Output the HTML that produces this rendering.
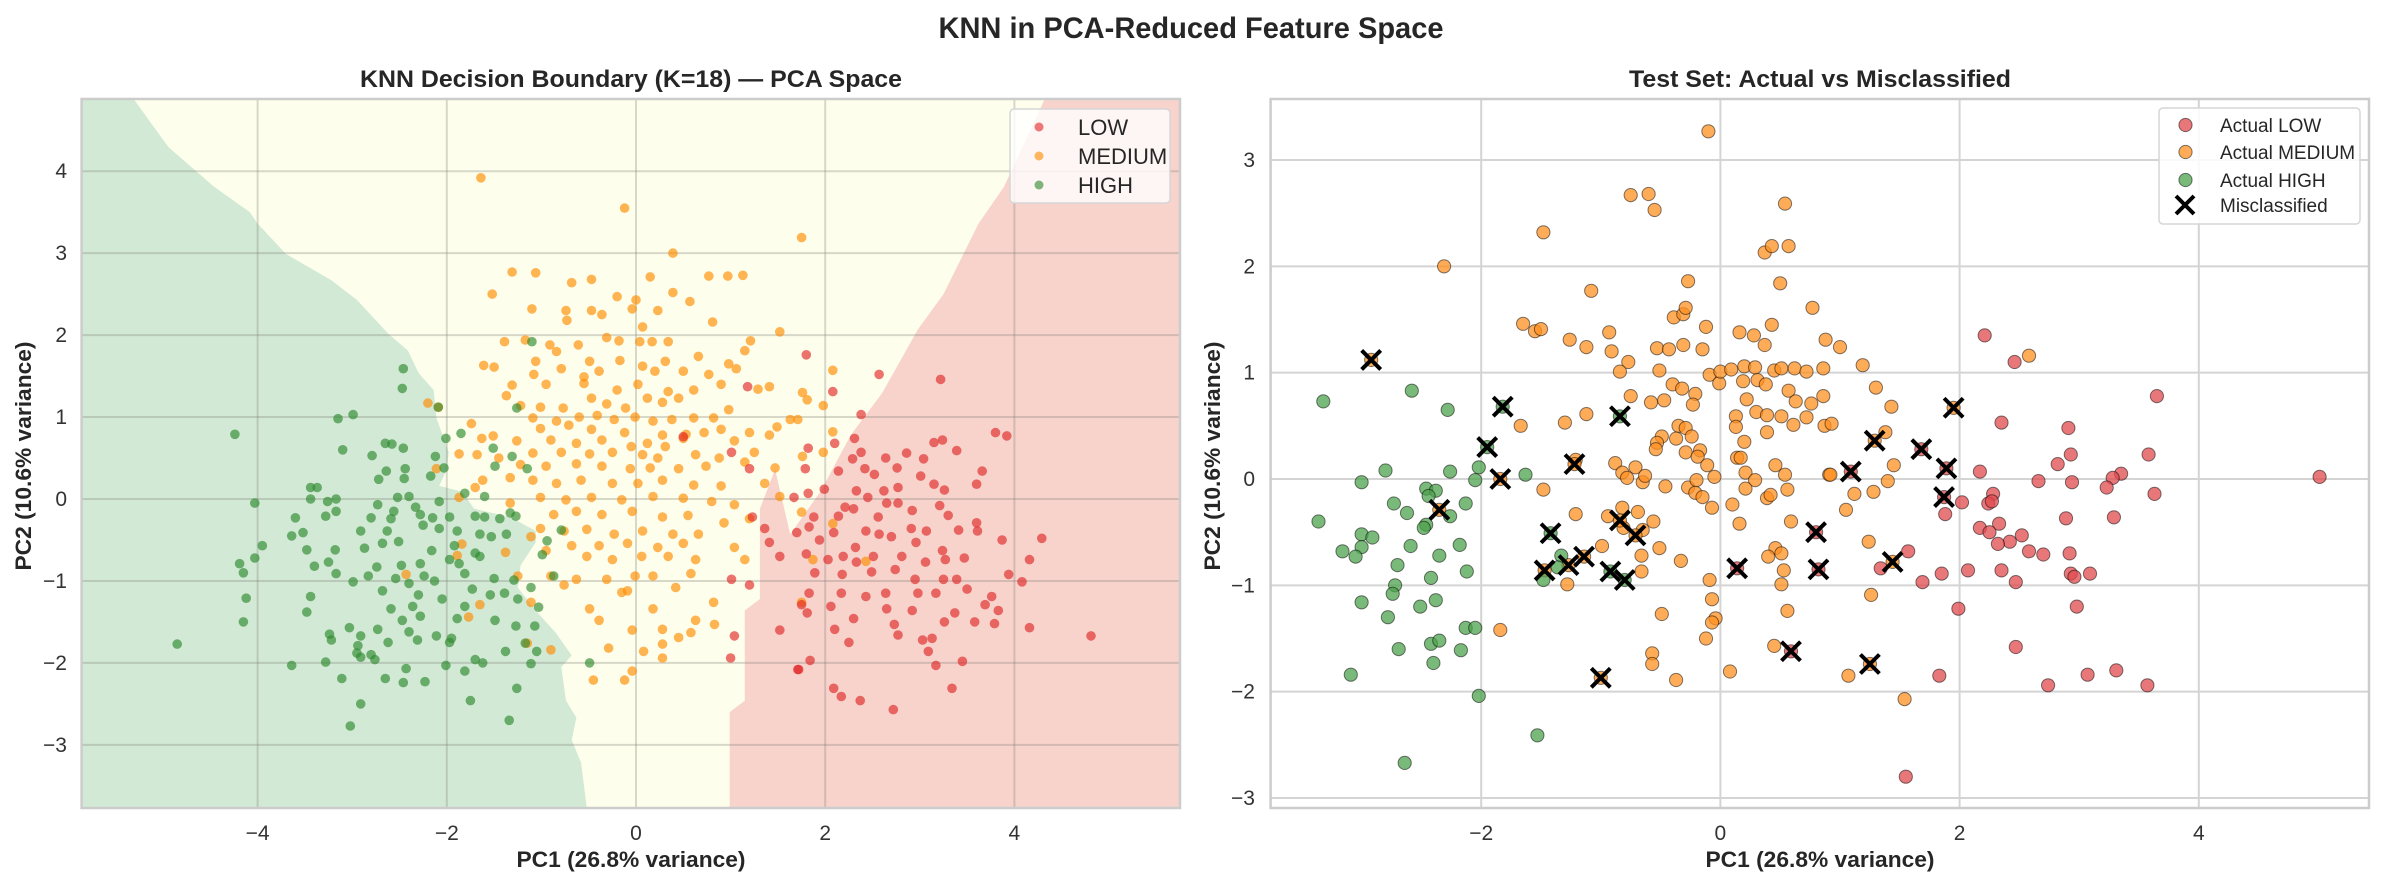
<!DOCTYPE html>
<html><head><meta charset="utf-8">
<style>
html,body{margin:0;padding:0;background:#fff;}
svg{display:block;font-family:"Liberation Sans","DejaVu Sans",sans-serif;}
</style></head>
<body>
<svg id="fig" width="2384" height="886" viewBox="0 0 2384 886" xmlns="http://www.w3.org/2000/svg">
<text x="1191" y="38" font-size="30" font-weight="bold" fill="#262626" text-anchor="middle" textLength="505" lengthAdjust="spacingAndGlyphs">KNN in PCA-Reduced Feature Space</text>
<g id="left"></g>
<g id="right"></g>
</svg>
<script>
// ---------- DATA ----------
const xTicks = [-4, -2, 0, 2, 4];
const leftYTicks = [-3, -2, -1, 0, 1, 2, 3, 4];
const rightXTicks = [-2, 0, 2, 4];
const rightYTicks = [-3, -2, -1, 0, 1, 2, 3];
const classNames = ["LOW", "MEDIUM", "HIGH"];
// decision regions (data coords)
const greenRegion = [[-5.86,4.88],[-5.31,4.88],[-5.16,4.64],[-4.94,4.29],[-4.46,3.81],[-4.08,3.50],[-4.0,3.36],[-3.70,2.99],[-3.22,2.67],[-2.95,2.43],[-2.62,2.02],[-2.41,1.81],[-2.30,1.54],[-2.14,1.33],[-2.11,0.99],[-1.98,0.57],[-2.0,0.36],[-2.08,0.16],[-1.84,0.09],[-1.71,-0.12],[-1.33,-0.22],[-1.06,-0.39],[-1.06,-0.53],[-1.22,-0.81],[-1.25,-1.08],[-1.06,-1.36],[-0.85,-1.63],[-0.68,-1.91],[-0.79,-2.05],[-0.74,-2.46],[-0.63,-2.67],[-0.68,-2.94],[-0.58,-3.22],[-0.52,-3.77],[-5.86,-3.77]];
const redRegion = [[4.32,4.88],[5.75,4.88],[5.75,-3.77],[0.99,-3.77],[0.99,-2.60],[1.15,-2.46],[1.15,-1.36],[1.31,-1.22],[1.31,-0.12],[1.47,0.36],[1.63,-0.43],[1.95,0.09],[2.27,0.78],[2.60,1.29],[2.98,2.07],[3.25,2.50],[3.62,3.36],[3.89,3.81]];
const leftMedium = [[-1.64,3.92],[-0.12,3.55],[0.39,3.0],[-1.31,2.77],[-1.06,2.76],[-1.52,2.5],[-0.47,2.68],[-0.68,2.64],[0.15,2.71],[0.77,2.72],[0.97,2.72],[1.13,2.73],[0,2.43],[-0.2,2.47],[0.39,2.52],[0.57,2.41],[-1.1,2.32],[-0.74,2.3],[-0.47,2.3],[-0.04,2.32],[0.23,2.3],[-0.36,2.25],[-0.73,2.18],[0.07,2.1],[0.81,2.16],[1.52,2.04],[-1.39,1.92],[-1.17,1.94],[-0.91,1.88],[-0.61,1.88],[-0.31,1.97],[-0.18,1.93],[0.04,1.92],[0.17,1.92],[0.34,1.92],[1.21,1.93],[1.15,1.81],[-0.84,1.8],[0.66,1.74],[-1.06,1.68],[-0.49,1.68],[-0.17,1.69],[0.07,1.62],[0.31,1.68],[0.98,1.65],[-1.61,1.63],[-1.5,1.61],[-0.79,1.59],[-1.08,1.52],[-0.55,1.49],[-0.39,1.56],[0.2,1.56],[0.5,1.56],[0.77,1.52],[1.06,1.59],[-1.31,1.39],[-0.95,1.4],[-0.55,1.41],[-0.2,1.33],[0.02,1.4],[0.34,1.31],[0.61,1.33],[0.9,1.4],[1.29,1.34],[1.41,1.37],[-1.37,1.26],[-0.47,1.23],[-0.31,1.16],[0.12,1.23],[0.45,1.23],[-1.22,1.14],[-1.01,1.12],[-0.77,1.11],[-0.11,1.11],[0.28,1.18],[0.98,1.09],[-1.09,0.99],[-0.84,0.95],[-0.6,1.0],[-0.41,1.02],[-0.23,0.97],[-0.01,1.0],[0.18,0.95],[0.38,0.97],[0.61,0.99],[0.82,0.99],[1.63,0.97],[-1.74,0.92],[-1.01,0.86],[-0.71,0.9],[-0.47,0.85],[-0.12,0.81],[0.28,0.78],[0.53,0.79],[0.72,0.81],[0.9,0.85],[1.2,0.81],[1.49,0.88],[-1.63,0.74],[-1.51,0.77],[-1.26,0.71],[-0.9,0.72],[-0.63,0.68],[-0.36,0.72],[-0.05,0.64],[0.12,0.68],[0.31,0.64],[0.5,0.74],[1.04,0.71],[1.41,0.78],[-1.09,0.56],[-0.79,0.57],[-0.49,0.55],[-0.25,0.57],[0.07,0.54],[0.23,0.5],[0.63,0.54],[0.88,0.5],[1.25,0.57],[-1.87,0.55],[-1.68,0.54],[-1.45,0.5],[-1.22,0.42],[-0.95,0.4],[-0.63,0.43],[-0.36,0.4],[-0.06,0.37],[0.15,0.38],[0.45,0.37],[0.74,0.4],[1.15,0.45],[1.47,0.38],[-1.62,0.23],[-1.33,0.26],[-1.09,0.23],[-0.84,0.19],[-0.58,0.23],[-0.25,0.19],[0.02,0.19],[0.28,0.23],[0.61,0.17],[0.9,0.16],[1.36,0.19],[-1.7,0.14],[-1.01,0.02],[-0.74,-0.01],[-0.47,0.02],[-0.15,-0.01],[0.18,0.03],[0.5,0.01],[0.8,-0.03],[1.04,-0.07],[1.52,0.03],[-1.87,0.02],[-1.33,-0.05],[-0.87,-0.19],[-0.63,-0.15],[-0.36,-0.19],[-0.04,-0.15],[0.28,-0.22],[0.55,-0.2],[0.93,-0.29],[1.2,-0.24],[-1.01,-0.36],[-0.76,-0.39],[-0.52,-0.37],[-0.23,-0.43],[0.07,-0.39],[0.39,-0.43],[0.66,-0.43],[-1.11,-0.46],[-0.68,-0.57],[-0.39,-0.57],[-0.09,-0.54],[0.23,-0.59],[0.5,-0.54],[1.04,-0.59],[-0.95,-0.63],[-0.52,-0.7],[-0.25,-0.74],[0.06,-0.7],[0.34,-0.7],[0.63,-0.74],[1.15,-0.74],[-0.9,-0.94],[-0.63,-0.98],[-0.31,-0.98],[-0.01,-0.94],[0.18,-0.94],[0.58,-0.91],[-1.25,-0.94],[-0.76,-1.05],[-0.09,-1.12],[0.42,-1.08],[-1.11,-1.26],[-0.49,-1.34],[-0.15,-1.14],[0.18,-1.34],[0.82,-1.26],[-0.39,-1.48],[-0.04,-1.6],[0.28,-1.59],[0.63,-1.48],[0.83,-1.53],[-1.15,-1.76],[-0.9,-1.84],[-0.29,-1.82],[0.28,-1.77],[0.45,-1.69],[0.08,-1.86],[-0.04,-2.1],[-0.45,-2.21],[-0.12,-2.21],[0.28,-1.94],[0.58,-1.63],[-2.2,1.17],[-2.09,1.12],[-2.11,0.37],[-1.38,-0.65],[-1.84,-0.55],[-1.89,-0.69],[-2.43,-0.92],[-1.77,-1.44],[-1.65,-1.29],[1.75,3.19],[2.08,1.57],[1.76,1.3],[1.81,1.21],[1.98,1.14],[2.08,0.82],[1.71,0.97],[1.76,0.52],[1.98,0.57],[1.75,-0.16],[1.87,-0.74],[2.43,-0.76],[2.08,-0.3],[1.75,-1.26]];
const leftHigh = [[-2.46,1.59],[-2.47,1.35],[-3.15,0.98],[-2.99,1.03],[-4.24,0.79],[-1.1,1.92],[-2.09,1.12],[-1.26,1.11],[-2.65,0.68],[-2.58,0.67],[-2.46,0.62],[-3.1,0.6],[-2.01,0.74],[-1.85,0.8],[-1.51,0.62],[-1.31,0.52],[-2.79,0.53],[-2.12,0.52],[-2.64,0.34],[-2.44,0.37],[-2.72,0.24],[-2.45,0.25],[-2.17,0.28],[-2.03,0.38],[-1.49,0.4],[-1.15,0.37],[-3.44,0.14],[-3.37,0.14],[-4.03,-0.05],[-3.44,0],[-3.26,-0.03],[-3.17,0],[-2.52,0.02],[-2.4,0.03],[-2.08,-0.03],[-1.81,0.07],[-1.6,0.03],[-2.73,-0.07],[-2.33,-0.1],[-3.17,-0.15],[-2.56,-0.15],[-2.28,-0.19],[-1.97,-0.22],[-1.6,-0.22],[-1.33,-0.17],[-3.6,-0.23],[-3.28,-0.21],[-2.8,-0.23],[-2.59,-0.24],[-2.15,-0.23],[-1.7,-0.21],[-1.44,-0.24],[-1.27,-0.21],[-2.91,-0.39],[-2.63,-0.39],[-2.25,-0.32],[-2.08,-0.36],[-1.89,-0.39],[-1.65,-0.43],[-1.37,-0.43],[-0.79,-0.38],[-3.64,-0.45],[-3.52,-0.41],[-2.68,-0.54],[-2.51,-0.52],[-1.53,-0.46],[-0.94,-0.51],[-3.48,-0.62],[-3.18,-0.62],[-2.87,-0.6],[-2.16,-0.63],[-1.92,-0.57],[-1.7,-0.66],[-4.19,-0.79],[-3.4,-0.82],[-3.25,-0.77],[-2.74,-0.83],[-2.48,-0.81],[-2.28,-0.79],[-1.97,-0.74],[-1.87,-0.79],[-1.65,-0.7],[-0.99,-0.68],[-4.03,-0.72],[-3.95,-0.57],[-4.15,-0.9],[-3.17,-0.91],[-2.83,-0.94],[-2.54,-0.97],[-2.24,-0.94],[-1.81,-0.91],[-1.5,-0.97],[-1.29,-0.99],[-0.87,-0.94],[-2.99,-1.01],[-2.68,-1.12],[-2.4,-1.03],[-2.13,-1.0],[-1.73,-1.1],[-1.39,-1.15],[-1.11,-1.08],[-3.44,-1.19],[-2.3,-1.17],[-2.05,-1.22],[-1.54,-1.17],[-1.25,-1.22],[-4.12,-1.21],[-2.59,-1.34],[-2.36,-1.31],[-1.81,-1.31],[-1.03,-1.32],[-3.48,-1.38],[-2.47,-1.48],[-2.28,-1.43],[-1.89,-1.46],[-1.49,-1.48],[-1.27,-1.55],[-4.15,-1.5],[-3.03,-1.57],[-2.73,-1.59],[-2.4,-1.62],[-1.07,-1.55],[-3.24,-1.65],[-2.91,-1.67],[-2.11,-1.67],[-1.95,-1.7],[-1.17,-1.76],[-3.22,-1.72],[-2.94,-1.79],[-2.62,-1.75],[-2.31,-1.72],[-4.85,-1.77],[-2.95,-1.88],[-2.8,-1.9],[-1.97,-1.75],[-1.38,-1.86],[-1.05,-1.86],[-0.49,-2.0],[-3.64,-2.03],[-3.28,-1.99],[-2.91,-1.93],[-2.76,-1.96],[-1.7,-1.96],[-1.11,-2.01],[-2.01,-2.03],[-2.43,-2.07],[-3.11,-2.19],[-2.65,-2.19],[-2.46,-2.24],[-2.23,-2.23],[-1.81,-2.1],[-1.62,-2.0],[-1.26,-2.31],[-1.75,-2.46],[-2.91,-2.5],[-1.34,-2.7],[-3.02,-2.77]];
const leftLow = [[1.8,1.76],[2.57,1.52],[3.22,1.46],[2.08,1.31],[2.38,1.03],[3.8,0.81],[3.92,0.77],[2.31,0.74],[3.15,0.69],[3.24,0.72],[3.39,0.59],[2.1,0.68],[1.82,0.62],[2.38,0.57],[2.86,0.56],[2.29,0.49],[2.64,0.5],[3.04,0.49],[2.14,0.34],[2.42,0.37],[2.76,0.38],[3.66,0.34],[1.79,0.37],[3.6,0.18],[3.01,0.28],[3.15,0.18],[2.33,0.1],[2.52,0.3],[2.62,0.1],[2.77,0.14],[3.26,0.11],[1.99,0.12],[1.67,0.02],[1.82,0.07],[2.45,0.02],[2.21,-0.1],[2.3,-0.12],[2.65,-0.05],[2.77,-0.05],[2.92,-0.14],[3.21,-0.08],[1.88,-0.22],[2.14,-0.21],[2.56,-0.22],[3.3,-0.2],[3.6,-0.29],[1.83,-0.34],[2.09,-0.41],[2.43,-0.39],[2.57,-0.43],[2.91,-0.36],[3.07,-0.39],[3.41,-0.38],[3.61,-0.39],[1.7,-0.41],[1.94,-0.5],[2.32,-0.59],[2.7,-0.46],[2.96,-0.53],[3.24,-0.63],[4.29,-0.48],[3.87,-0.5],[1.8,-0.67],[2.03,-0.74],[2.19,-0.7],[2.33,-0.77],[2.51,-0.7],[2.81,-0.7],[3.06,-0.77],[3.27,-0.74],[3.47,-0.72],[4.16,-0.74],[1.89,-0.9],[2.18,-0.92],[2.49,-0.89],[2.74,-0.86],[2.95,-0.98],[3.25,-0.98],[3.39,-0.98],[3.94,-0.92],[4.08,-1.01],[1.83,-1.15],[2.17,-1.15],[2.43,-1.19],[2.64,-1.15],[2.98,-1.15],[3.17,-1.15],[3.5,-1.1],[3.76,-1.19],[1.75,-1.29],[2.06,-1.31],[2.65,-1.34],[2.92,-1.36],[3.37,-1.39],[3.69,-1.29],[3.83,-1.36],[1.81,-1.39],[2.3,-1.46],[2.73,-1.53],[3.26,-1.5],[3.58,-1.5],[3.79,-1.52],[4.16,-1.57],[4.81,-1.67],[2.1,-1.59],[2.25,-1.75],[2.77,-1.66],[3.03,-1.72],[3.13,-1.7],[1.84,-1.97],[1.72,-2.08],[3.17,-2.03],[3.45,-1.98],[2.09,-2.31],[2.17,-2.41],[2.37,-2.46],[2.72,-2.57],[3.34,-2.31],[3.09,-1.86],[1.18,1.37],[0.5,0.76],[1.01,0.57],[1.2,0.37],[1.23,-0.22],[1.36,-0.36],[1.41,-0.53],[1.52,-0.7],[1.01,-0.98],[1.04,-1.67],[1.52,-1.6],[1.0,-1.94],[1.71,-2.08],[1.2,-1.05]];
// right panel test set
const testMedium = [[-0.1,3.27],[-0.75,2.67],[-0.6,2.68],[-0.55,2.53],[0.54,2.59],[-1.48,2.32],[-2.31,2.0],[-0.27,1.86],[0.37,2.13],[0.43,2.19],[0.57,2.19],[0.5,1.84],[-1.08,1.77],[0.77,1.61],[-1.65,1.46],[-1.55,1.39],[-1.5,1.41],[-1.26,1.31],[-1.12,1.24],[-0.93,1.38],[-0.91,1.2],[-0.77,1.1],[-0.84,1.01],[-0.39,1.52],[-0.31,1.55],[-0.29,1.61],[-0.12,1.43],[-0.53,1.23],[-0.43,1.22],[-0.31,1.26],[-0.15,1.22],[0.16,1.38],[0.28,1.35],[0.37,1.26],[0.43,1.45],[0.88,1.31],[-0.51,1.02],[-0.09,0.98],[-0.01,0.9],[0,1.01],[0.09,1.03],[0.2,1.06],[0.29,1.05],[0.45,1.02],[0.51,1.04],[0.62,1.04],[0.72,1.01],[0.86,1.04],[-0.4,0.89],[-0.32,0.85],[-0.21,0.8],[0.19,0.92],[0.31,0.93],[0.38,0.89],[0.57,0.83],[0.63,0.73],[0.76,0.71],[0.86,0.78],[-0.75,0.78],[-0.58,0.72],[-0.47,0.74],[-0.23,0.7],[0.22,0.75],[0.3,0.63],[0.39,0.6],[0.51,0.59],[0.61,0.51],[0.72,0.58],[0.87,0.5],[0.13,0.59],[0.13,0.49],[0.39,0.44],[0.2,0.35],[-1.67,0.5],[-1.3,0.53],[-1.12,0.61],[-0.35,0.5],[-0.29,0.48],[-0.49,0.4],[-0.24,0.4],[-0.37,0.38],[-0.53,0.34],[-0.54,0.28],[-0.29,0.25],[-0.17,0.27],[-0.19,0.21],[-0.11,0.13],[0.14,0.2],[0.17,0.2],[0.46,0.13],[0.54,0.04],[0.91,0.04],[0.21,0.06],[0.29,-0.01],[0.21,-0.09],[-0.05,0.02],[-0.88,0.15],[-0.82,0.06],[-0.71,0.11],[-0.78,0.01],[-0.65,-0.03],[-0.63,0.03],[-1.21,0.18],[-1.48,-0.1],[-0.46,-0.07],[-0.27,-0.08],[-0.2,-0.01],[-0.21,-0.13],[-0.15,-0.17],[0.39,-0.18],[0.42,-0.15],[0.56,-0.1],[-0.07,-0.27],[0.1,-0.24],[-0.82,-0.27],[-0.69,-0.31],[-0.94,-0.35],[-1.21,-0.33],[-0.81,-0.46],[-0.65,-0.48],[-0.56,-0.4],[0.16,-0.42],[0.59,-0.4],[-0.99,-0.63],[-0.51,-0.65],[-0.66,-0.72],[-0.33,-0.77],[-0.66,-0.87],[0.46,-0.65],[0.4,-0.73],[0.51,-0.7],[0.53,-0.86],[0.51,-0.99],[-1.28,-0.99],[-0.09,-0.95],[-0.07,-1.13],[-0.49,-1.27],[-0.04,-1.31],[-0.07,-1.35],[-0.12,-1.5],[0.56,-1.24],[-1.84,-1.42],[-0.57,-1.64],[-0.57,-1.74],[-0.37,-1.89],[0.08,-1.81],[0.45,-1.57],[1.0,1.24],[1.19,1.07],[2.58,1.16],[1.3,0.86],[1.43,0.68],[0.93,0.52],[1.38,0.44],[1.45,0.13],[0.92,0.04],[1.4,-0.02],[1.12,-0.14],[1.28,-0.12],[1.05,-0.29],[1.24,-0.59],[1.26,-1.09],[1.07,-1.85],[1.54,-2.07],[-2.92,1.12],[-1.84,0.0],[-2.35,-0.29],[-0.84,-0.39],[-0.71,-0.53],[-1.47,-0.86],[-1.27,-0.81],[-1.14,-0.73],[-1.0,-1.87],[1.95,0.67],[1.29,0.36],[1.44,-0.78],[1.25,-1.74],[-1.22,0.14]];
const testHigh = [[-3.32,0.73],[-2.58,0.83],[-2.28,0.65],[-3.36,-0.4],[-2.8,0.08],[-3.0,-0.03],[-2.26,0.07],[-2.02,0.11],[-2.05,-0.01],[-1.63,0.04],[-2.46,-0.09],[-2.38,-0.11],[-2.44,-0.16],[-2.73,-0.23],[-2.62,-0.32],[-2.13,-0.23],[-2.26,-0.35],[-2.46,-0.43],[-2.48,-0.46],[-3.0,-0.52],[-2.91,-0.55],[-3.0,-0.64],[-3.16,-0.68],[-3.05,-0.73],[-2.59,-0.63],[-2.18,-0.62],[-2.35,-0.72],[-2.7,-0.81],[-2.42,-0.93],[-2.12,-0.87],[-2.72,-1.0],[-2.74,-1.08],[-3.0,-1.16],[-2.38,-1.14],[-2.51,-1.2],[-2.78,-1.3],[-2.13,-1.4],[-2.05,-1.4],[-2.42,-1.55],[-2.35,-1.52],[-2.69,-1.6],[-2.17,-1.61],[-2.4,-1.73],[-3.09,-1.84],[-2.02,-2.04],[-1.53,-2.41],[-2.64,-2.67],[-1.33,-0.72],[-1.36,-0.83],[-1.48,-0.95],[-1.42,-0.51],[-1.82,0.68],[-1.95,0.3],[-0.84,0.59],[-0.92,-0.87],[-0.8,-0.95]];
const testLow = [[2.21,1.35],[2.46,1.1],[3.65,0.78],[2.35,0.53],[2.91,0.48],[2.93,0.23],[3.58,0.23],[2.82,0.14],[2.17,0.07],[2.66,-0.02],[2.94,-0.03],[3.35,0.05],[3.28,0.01],[3.23,-0.08],[3.63,-0.14],[5.01,0.02],[2.28,-0.14],[2.24,-0.23],[2.27,-0.21],[2.02,-0.22],[1.88,-0.33],[2.89,-0.37],[3.29,-0.36],[2.33,-0.42],[2.17,-0.46],[2.25,-0.5],[2.52,-0.53],[2.42,-0.59],[2.32,-0.61],[2.58,-0.68],[2.7,-0.71],[2.92,-0.7],[1.57,-0.68],[1.34,-0.84],[1.85,-0.89],[1.69,-0.97],[2.07,-0.86],[2.35,-0.86],[2.47,-0.97],[2.93,-0.89],[2.96,-0.92],[3.09,-0.89],[1.99,-1.22],[2.98,-1.2],[2.47,-1.58],[1.83,-1.85],[2.74,-1.94],[3.07,-1.84],[3.31,-1.8],[3.57,-1.94],[1.55,-2.8],[0.8,-0.5],[0.14,-0.84],[0.82,-0.85],[0.59,-1.62],[1.68,0.28],[1.09,0.07],[1.89,0.1],[1.87,-0.17]];
const misclassified = [[-2.92,1.12],[-1.82,0.68],[-1.95,0.3],[-1.84,0.0],[-2.35,-0.29],[-0.84,0.59],[-1.22,0.14],[-1.42,-0.51],[0.8,-0.5],[0.14,-0.84],[0.82,-0.85],[-0.84,-0.39],[-0.71,-0.53],[-1.47,-0.86],[-1.27,-0.81],[-1.14,-0.73],[-0.92,-0.87],[-0.8,-0.95],[-1.0,-1.87],[0.59,-1.62],[1.95,0.67],[1.29,0.36],[1.68,0.28],[1.09,0.07],[1.89,0.1],[1.87,-0.17],[1.44,-0.78],[1.25,-1.74]];

// ---------- RENDER ----------
const NS = "http://www.w3.org/2000/svg";
function mk(parent, tag, attrs, text){
  const e = document.createElementNS(NS, tag);
  for (const k in attrs) e.setAttribute(k, attrs[k]);
  if (text !== undefined) e.textContent = text;
  parent.appendChild(e);
  return e;
}
function scale(d0, d1, p0, p1){ return v => p0 + (v - d0) / (d1 - d0) * (p1 - p0); }

// LEFT PANEL
const L = document.getElementById('left');
const lx = scale(0, 2, 636, 825.2);
const ly = scale(0, 4, 499, 171.2);
const LA = {x0:81.6, x1:1180, y0:99, y1:808};
mk(L,'defs',{}).innerHTML = '<clipPath id="clipL"><rect x="81.6" y="99" width="1098.4" height="709"/></clipPath><clipPath id="clipR"><rect x="1270.6" y="99" width="1098.4" height="709"/></clipPath>';
const lbg = mk(L,'rect',{x:LA.x0,y:LA.y0,width:LA.x1-LA.x0,height:LA.y1-LA.y0,fill:'#fefeec'});


function polyPath(pts, fx, fy){ return 'M' + pts.map(p => fx(p[0]).toFixed(1)+','+fy(p[1]).toFixed(1)).join('L') + 'Z'; }
const gReg = mk(L,'path',{d:polyPath(greenRegion,lx,ly),fill:'#d2e9d5','clip-path':'url(#clipL)'});


const rReg = mk(L,'path',{d:polyPath(redRegion,lx,ly),fill:'#f7d3cc','clip-path':'url(#clipL)'});


// grid
xTicks.forEach(t => {
  const g = mk(L,'line',{x1:lx(t),x2:lx(t),y1:LA.y0,y2:LA.y1,stroke:'rgba(120,120,110,0.28)','stroke-width':2});
  
  
  const tl = mk(L,'text',{x:lx(t),y:840,'font-size':21,fill:'#333','text-anchor':'middle'}, t<0?'\u2212'+Math.abs(t):String(t));
  
  
});
leftYTicks.forEach(t => {
  const g = mk(L,'line',{x1:LA.x0,x2:LA.x1,y1:ly(t),y2:ly(t),stroke:'rgba(120,120,110,0.28)','stroke-width':2});
  
  
  const tl = mk(L,'text',{x:67,y:ly(t)+7,'font-size':21,fill:'#333','text-anchor':'end'}, t<0?'\u2212'+Math.abs(t):String(t));
  
  
});
const LG = mk(L,'g',{'clip-path':'url(#clipL)'});
function leftDots(arr, color, name){
  arr.forEach(p => {
    const c = mk(LG,'circle',{cx:lx(p[0]).toFixed(1),cy:ly(p[1]).toFixed(1),r:4.8,fill:color,'fill-opacity':0.65});
    
    
  });
}
leftDots(leftMedium,'#ff8c00','point-medium');
leftDots(leftHigh,'#2e8b2e','point-high');
leftDots(leftLow,'#e02828','point-low');
const lsp = mk(L,'rect',{x:LA.x0,y:LA.y0,width:LA.x1-LA.x0,height:LA.y1-LA.y0,fill:'none',stroke:'#cccccc','stroke-width':2.5});


// titles
mk(L,'text',{x:631,y:87,'font-size':24,'font-weight':'bold',fill:'#262626','text-anchor':'middle',textLength:542,lengthAdjust:'spacingAndGlyphs',},'KNN Decision Boundary (K=18) \u2014 PCA Space');
mk(L,'text',{x:631,y:867,'font-size':22,'font-weight':'bold',fill:'#262626','text-anchor':'middle',textLength:229,lengthAdjust:'spacingAndGlyphs',},'PC1 (26.8% variance)');
mk(L,'text',{x:0,y:0,transform:'translate(31,456) rotate(-90)','font-size':22,'font-weight':'bold',fill:'#262626','text-anchor':'middle',textLength:229,lengthAdjust:'spacingAndGlyphs',},'PC2 (10.6% variance)');
// legend left
const lleg = mk(L,'g',{});
mk(lleg,'rect',{x:1010,y:109,width:160,height:94,rx:4,fill:'rgba(255,255,255,0.8)',stroke:'#d6d6d6','stroke-width':1.5});
const legCols = ['#e02828','#ff8c00','#2e8b2e'];
classNames.forEach((n,i) => {
  const yy = 127 + i*29;
  const m = mk(lleg,'circle',{cx:1039,cy:yy,r:4.5,fill:legCols[i],'fill-opacity':0.62});
  
  
  const t = mk(lleg,'text',{x:1078,y:yy+8,'font-size':22,fill:'#262626'},n);
  
  
});

// RIGHT PANEL
const R = document.getElementById('right');
const rx = scale(2, 4, 1959.6, 2198.8);
const ry = scale(0, 3, 479, 160);
const RA = {x0:1270.6, x1:2369, y0:99, y1:808};
rightXTicks.forEach(t => {
  const g = mk(R,'line',{x1:rx(t),x2:rx(t),y1:RA.y0,y2:RA.y1,stroke:'#d4d4d4','stroke-width':2});
  
  
  const tl = mk(R,'text',{x:rx(t),y:840,'font-size':21,fill:'#333','text-anchor':'middle'}, t<0?'\u2212'+Math.abs(t):String(t));
  
  
});
rightYTicks.forEach(t => {
  const g = mk(R,'line',{x1:RA.x0,x2:RA.x1,y1:ry(t),y2:ry(t),stroke:'#d4d4d4','stroke-width':2});
  
  
  const tl = mk(R,'text',{x:1255,y:ry(t)+7,'font-size':21,fill:'#333','text-anchor':'end'}, t<0?'\u2212'+Math.abs(t):String(t));
  
  
});
const RG = mk(R,'g',{'clip-path':'url(#clipR)'});
function rightDots(arr, color, name){
  arr.forEach(p => {
    const c = mk(RG,'circle',{cx:rx(p[0]).toFixed(1),cy:ry(p[1]).toFixed(1),r:6.6,fill:color,'fill-opacity':0.75,stroke:'rgba(0,0,0,0.5)','stroke-width':1});
    
    
  });
}
rightDots(testLow,'#e04a4e','test-point-low');
rightDots(testMedium,'#ff9020','test-point-medium');
rightDots(testHigh,'#4ca24c','test-point-high');
misclassified.forEach(p => {
  const cx = rx(p[0]), cy = ry(p[1]), s = 9.5;
  const x = mk(RG,'path',{d:`M${cx-s},${cy-s}L${cx+s},${cy+s}M${cx-s},${cy+s}L${cx+s},${cy-s}`,stroke:'#000','stroke-width':4,fill:'none'});
  
  
});
const rsp = mk(R,'rect',{x:RA.x0,y:RA.y0,width:RA.x1-RA.x0,height:RA.y1-RA.y0,fill:'none',stroke:'#cccccc','stroke-width':2.5});


mk(R,'text',{x:1820,y:87,'font-size':24,'font-weight':'bold',fill:'#262626','text-anchor':'middle',textLength:382,lengthAdjust:'spacingAndGlyphs',},'Test Set: Actual vs Misclassified');
mk(R,'text',{x:1820,y:867,'font-size':22,'font-weight':'bold',fill:'#262626','text-anchor':'middle',textLength:229,lengthAdjust:'spacingAndGlyphs',},'PC1 (26.8% variance)');
mk(R,'text',{x:0,y:0,transform:'translate(1220,456) rotate(-90)','font-size':22,'font-weight':'bold',fill:'#262626','text-anchor':'middle',textLength:229,lengthAdjust:'spacingAndGlyphs',},'PC2 (10.6% variance)');
const rleg = mk(R,'g',{});
mk(rleg,'rect',{x:2159,y:108,width:201,height:116,rx:4,fill:'rgba(255,255,255,0.85)',stroke:'#d6d6d6','stroke-width':1.5});
const rLegLabels = ['Actual LOW','Actual MEDIUM','Actual HIGH','Misclassified'];
const rLegCols = ['#e04a4e','#ff9020','#4ca24c'];
rLegLabels.forEach((n,i) => {
  const yy = [125,152,180,205][i];
  if (i < 3) {
    const m = mk(rleg,'circle',{cx:2185.5,cy:yy,r:6.6,fill:rLegCols[i],'fill-opacity':0.75,stroke:'rgba(0,0,0,0.5)','stroke-width':1});
    
    
  } else {
    const m = mk(rleg,'path',{d:`M2176,${yy-9}L2194,${yy+9}M2176,${yy+9}L2194,${yy-9}`,stroke:'#000','stroke-width':4});
    
    
  }
  const t = mk(rleg,'text',{x:2220,y:yy+7,'font-size':19,fill:'#262626'},n);
  
  
});
</script>
</body></html>
